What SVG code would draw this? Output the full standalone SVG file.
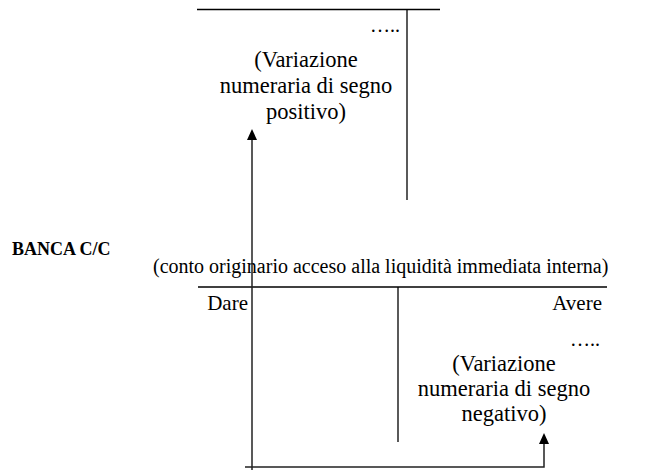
<svg xmlns="http://www.w3.org/2000/svg" width="657" height="471" viewBox="0 0 657 471">
<style>
.t{font-family:"Liberation Serif","Times New Roman",serif;font-size:20px;fill:#000}
.v{font-size:22.5px}
.d{font-size:21px}
.c{text-anchor:middle}
.e{text-anchor:end}
.b{font-family:"Liberation Serif","Times New Roman",serif;font-size:18px;font-weight:bold;fill:#000}
.ln{stroke:#000;stroke-width:1.3;fill:none}
.ar{stroke:#222;stroke-width:1.5;fill:none}
</style>
<rect width="657" height="471" fill="#fff"/>
<g id="conto-superiore">
<line class="ln" x1="197" y1="9.5" x2="440" y2="9.5"/>
<line class="ln" x1="407" y1="9.5" x2="407" y2="200"/>
<text class="t e" x="400" y="32">…..</text>
<text class="t v c" x="306" y="67">(Variazione</text>
<text class="t v c" x="306" y="93">numeraria di segno</text>
<text class="t v c" x="306" y="119">positivo)</text>
</g>
<g id="banca-cc">
<text class="b" x="12" y="255">BANCA C/C</text>
<text class="t" x="153" y="273">(conto originario acceso alla liquidità immediata interna)</text>
<line class="ln" x1="198" y1="287" x2="607" y2="287"/>
<line class="ln" x1="398" y1="287" x2="398" y2="442"/>
<text class="t d e" x="248" y="310">Dare</text>
<text class="t d e" x="602" y="310">Avere</text>
<text class="t e" x="600" y="346">…..</text>
<text class="t v c" x="504" y="371">(Variazione</text>
<text class="t v c" x="504" y="396">numeraria di segno</text>
<text class="t v c" x="504" y="421">negativo)</text>
</g>
<g id="connettori">
<polyline class="ar" points="544,443 544,467 245,467"/>
<line class="ar" x1="252" y1="470" x2="252" y2="139"/>
<polygon points="252,129 247,140 257,140" fill="#000"/>
<polygon points="544,433 539,444 549,444" fill="#000"/>
</g>
</svg>
